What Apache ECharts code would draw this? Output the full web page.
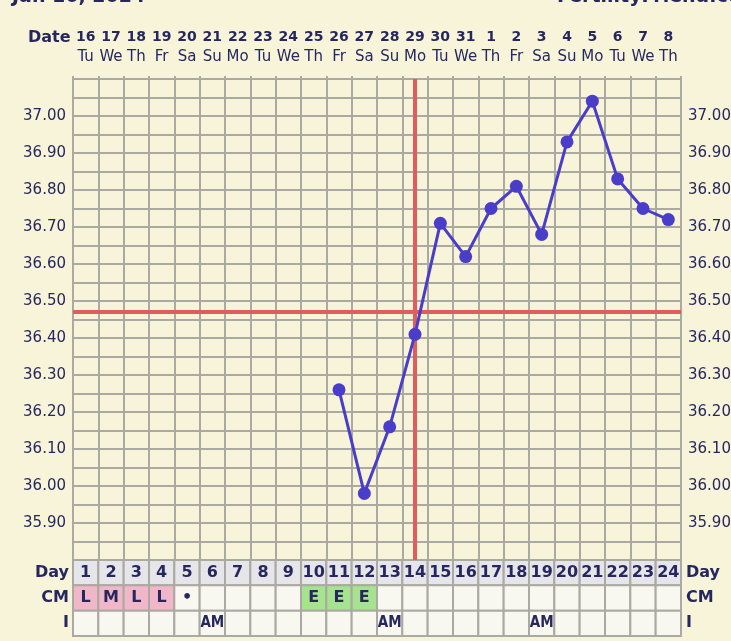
<!DOCTYPE html>
<html>
<head>
<meta charset="utf-8">
<script src="https://cdn.jsdelivr.net/npm/echarts@6/dist/echarts.min.js"></script>
<style>
html,body{margin:0;padding:0;background:#f7f4da;}
#chart{width:731px;height:641px;}
</style>
</head>
<body>
<div id="chart"></div>
<script>
// ---- data ----
const days = ['1','2','3','4','5','6','7','8','9','10','11','12','13','14','15','16','17','18','19','20','21','22','23','24'];
const dates = ['16','17','18','19','20','21','22','23','24','25','26','27','28','29','30','31','1','2','3','4','5','6','7','8'];
const weekdays = ['Tu','We','Th','Fr','Sa','Su','Mo','Tu','We','Th','Fr','Sa','Su','Mo','Tu','We','Th','Fr','Sa','Su','Mo','Tu','We','Th'];
const temps = [null,null,null,null,null,null,null,null,null,null,36.26,35.98,36.16,36.41,36.71,36.62,36.75,36.81,36.68,36.93,37.04,36.83,36.75,36.72];
const cervicalMucus = ['L','M','L','L','•','','','','','E','E','E','','','','','','','','','','','',''];
const intercourse = ['','','','','','AM','','','','','','','AM','','','','','','AM','','','','',''];
const tableRows = ['I','CM','Day'];
const coverline = 36.47;
const ovulationDay = '14';
const chartTitle = 'Jan 16, 2024';
const siteName = 'FertilityFriend.com';

// ---- styles ----
const NAVY = '#27275f';
const GRIDC = '#aaa9a2';
const FONT = '"DejaVu Sans", Verdana, sans-serif';
const COND = '"DejaVu Sans Condensed", "DejaVu Sans", sans-serif';
const cmFill = { L: '#f2b6c9', M: '#f2b6c9', E: '#a6e38e' };
const emptyFill = '#f8f8f1';
const dayFill = '#e6e5ea';

const cells = [];
days.forEach((d, i) => {
  cells.push({ value: [i, 2], text: d, fill: dayFill, font: 'bold 16px ' + FONT });
  cells.push({ value: [i, 1], text: cervicalMucus[i], fill: cmFill[cervicalMucus[i]] || emptyFill, font: 'bold 16px ' + FONT });
  cells.push({ value: [i, 0], text: intercourse[i], fill: emptyFill, font: 'bold 15px ' + COND });
});

const chart = echarts.init(document.getElementById('chart'));
const yLabel = v => {
  const r = Math.round(v * 100);
  return (r % 10 === 0 && r >= 3590 && r <= 3700) ? (r / 100).toFixed(2) : '';
};

chart.setOption({
  backgroundColor: '#f7f4da',
  animation: false,
  textStyle: { fontFamily: FONT },
  graphic: [
    { type: 'text', left: 12, top: -12, style: { text: chartTitle, font: 'bold 19px ' + FONT, fill: NAVY } },
    { type: 'text', left: 557, top: -12, style: { text: siteName, font: 'bold 19px ' + FONT, fill: NAVY } },
    { type: 'text', left: 28, top: 30, style: { text: 'Date', font: 'bold 16px ' + FONT, fill: NAVY } }
  ],
  grid: [
    { left: 73, right: 50, top: 79, height: 481, containLabel: false, outerBoundsMode: 'none' },
    { left: 73, right: 50, top: 560, height: 76, containLabel: false, outerBoundsMode: 'none' }
  ],
  xAxis: [
    {
      gridIndex: 0, type: 'category', data: dates, position: 'top', boundaryGap: true,
      axisLine: { show: true, lineStyle: { color: GRIDC, width: 2 } },
      axisTick: { show: true, length: 3, lineStyle: { color: GRIDC, width: 2 } },
      splitLine: { show: true, interval: 0, lineStyle: { color: GRIDC, width: 2 } },
      axisLabel: {
        interval: 0, margin: 12,
        formatter: (v, i) => '{d|' + v + '}\n{w|' + weekdays[i] + '}',
        rich: {
          d: { fontFamily: FONT, fontWeight: 'bold', fontSize: 14, color: NAVY, lineHeight: 20 },
          w: { fontFamily: FONT, fontWeight: 'normal', fontSize: 15, color: NAVY, lineHeight: 20 }
        }
      }
    },
    {
      gridIndex: 1, type: 'category', data: days, boundaryGap: true,
      axisLine: { show: false }, axisTick: { show: false }, axisLabel: { show: false }, splitLine: { show: false }
    }
  ],
  yAxis: [
    {
      gridIndex: 0, type: 'value', min: 35.8, max: 37.1, interval: 0.05, position: 'left',
      axisLine: { show: true, lineStyle: { color: GRIDC, width: 2 } },
      axisTick: { show: false },
      splitLine: { show: true, lineStyle: { color: GRIDC, width: 2 } },
      axisLabel: { formatter: yLabel, margin: 7, color: NAVY, fontSize: 15, fontFamily: FONT }
    },
    {
      gridIndex: 0, type: 'value', min: 35.8, max: 37.1, interval: 0.05, position: 'right',
      axisLine: { show: true, lineStyle: { color: GRIDC, width: 2 } },
      axisTick: { show: false },
      splitLine: { show: false },
      axisLabel: { formatter: yLabel, margin: 7, color: NAVY, fontSize: 15, fontFamily: FONT }
    },
    {
      gridIndex: 1, type: 'category', data: tableRows, position: 'left',
      axisLine: { show: false }, axisTick: { show: false }, splitLine: { show: false },
      axisLabel: { margin: 4, color: NAVY, fontWeight: 'bold', fontSize: 16, fontFamily: FONT }
    },
    {
      gridIndex: 1, type: 'category', data: tableRows, position: 'right',
      axisLine: { show: false }, axisTick: { show: false }, splitLine: { show: false },
      axisLabel: { margin: 5, color: NAVY, fontWeight: 'bold', fontSize: 16, fontFamily: FONT }
    }
  ],
  series: [
    {
      type: 'line', xAxisIndex: 0, yAxisIndex: 0, data: temps, connectNulls: false,
      symbol: 'circle', symbolSize: 13, z: 5,
      lineStyle: { color: '#4a3dca', width: 3 },
      itemStyle: { color: '#4a3dca' },
      markLine: {
        silent: true, symbol: 'none', label: { show: false },
        lineStyle: { color: '#e05d5d', width: 4, type: 'solid' },
        data: [{ yAxis: coverline }, { xAxis: days.indexOf(ovulationDay) }]
      }
    },
    {
      type: 'custom', xAxisIndex: 1, yAxisIndex: 2, data: cells,
      renderItem: (params, api) => {
        const c = api.coord([api.value(0), api.value(1)]);
        const s = api.size([1, 1]);
        const cell = cells[params.dataIndex];
        return {
          type: 'group', children: [
            { type: 'rect', shape: { x: c[0] - s[0] / 2, y: c[1] - s[1] / 2, width: s[0], height: s[1] },
              style: { fill: cell.fill, stroke: GRIDC, lineWidth: 2 } },
            { type: 'text', x: c[0], y: c[1], style: { text: cell.text, align: 'center', verticalAlign: 'middle', font: cell.font, fill: NAVY } }
          ]
        };
      }
    }
  ]
});
</script>
</body>
</html>
